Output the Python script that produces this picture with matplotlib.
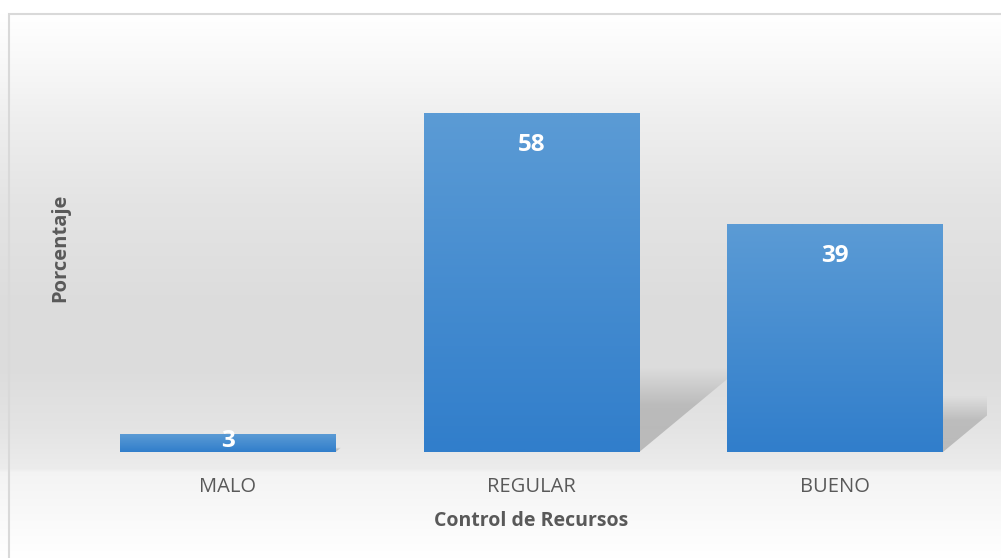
import numpy as np
import matplotlib
matplotlib.use("Agg")
import matplotlib.pyplot as plt
from matplotlib.patches import Polygon, Rectangle

plt.rcParams['font.family'] = ['Open Sans', 'DejaVu Sans']

categories = ['MALO', 'REGULAR', 'BUENO']
values = [3, 58, 39]
x_title = 'Control de Recursos'
y_title = 'Porcentaje'

W, H = 1001, 558
fig = plt.figure(figsize=(W / 100, H / 100), dpi=100)

# chart background: vertical grey gradient (row 0 = top of figure)
bg = fig.add_axes([0, 0, 1, 1], zorder=-10)
rows = np.arange(H)
stops_px = [0, 14, 60, 120, 200, 300, 370, 430, 468, 472, 558]
stops_g = [1.0, 1.0, 0.975, 0.935, 0.895, 0.865, 0.865, 0.895, 0.925, 0.955, 1.0]
g = np.interp(rows, stops_px, stops_g)
img = np.repeat(np.repeat(g[:, None, None], 2, axis=1), 3, axis=2)
bg.imshow(img, aspect='auto', extent=[0, 1, 0, 1], origin='upper',
          interpolation='bilinear')
bg.set_xlim(0, 1)
bg.set_ylim(0, 1)
bg.axis('off')
bg.add_patch(Rectangle((9 / W, -0.02), 1.0, 1.02 - 14 / H, fill=False,
                       edgecolor='#d9d9d9', linewidth=1.5))

ax = fig.add_axes([76 / W, (H - 452) / H, (987 - 76) / W, (452 - 43) / H])
ax.patch.set_alpha(0)
x = np.arange(len(categories))
width = 0.71

# perspective shadows behind bars
for xi, v in zip(x, values):
    hs = 0.25 * v
    dx = 0.0058 * v
    xl, xr = xi - width / 2, xi + width / 2
    poly = Polygon([(xl, 0), (xr, 0), (xr + dx, hs), (xl + dx, hs)], closed=True,
                   facecolor='none', edgecolor='none')
    ax.add_patch(poly)
    a = np.interp(np.linspace(0, 1, 64), [0, 0.55, 1.0], [0.32, 0.28, 0.0])
    shimg = np.zeros((64, 2, 4))
    shimg[..., :3] = 0.35
    shimg[..., 3] = a[:, None]
    im = ax.imshow(shimg, extent=[xl, xr + dx, 0, hs], origin='lower',
                   aspect='auto', interpolation='bilinear', zorder=1)
    im.set_clip_path(poly)

bars = ax.bar(x, values, width=width, color='none', zorder=2)
top_c = np.array([0x5b, 0x9b, 0xd5]) / 255
bot_c = np.array([0x31, 0x7e, 0xcb]) / 255
t = np.linspace(0, 1, 64)[:, None]
grad = (bot_c * (1 - t) + top_c * t)[:, None, :].repeat(2, axis=1)
for b in bars:
    bx, bw, bh = b.get_x(), b.get_width(), b.get_height()
    im = ax.imshow(grad, extent=[bx, bx + bw, 0, bh], origin='lower',
                   aspect='auto', interpolation='bilinear', zorder=3)
    im.set_clip_path(b)

for xi, v in zip(x, values):
    ly = v - 5.47
    if ly < v / 2:
        ly = v / 2 + 0.3
    ax.text(xi, ly, str(v), ha='center', va='center', color='white',
            fontsize=17.5, fontweight='bold', zorder=5)

ax.set_xlim(-0.5, 2.5)
ax.set_ylim(0, 70)
ax.set_xticks(x)
ax.set_xticklabels(categories, fontsize=14.5, color='#595959')
ax.tick_params(axis='x', length=0, pad=18)
ax.set_yticks([])
for s in ax.spines.values():
    s.set_visible(False)

fig.text(531 / W, 1 - 521 / H, x_title, ha='center', va='center',
         fontsize=14, fontweight='bold', color='#595959')
fig.text(60 / W, 1 - 248 / H, y_title, ha='center', va='center', rotation=90,
         fontsize=14.5, fontweight='bold', color='#595959')

fig.savefig('out.png', dpi=100)
